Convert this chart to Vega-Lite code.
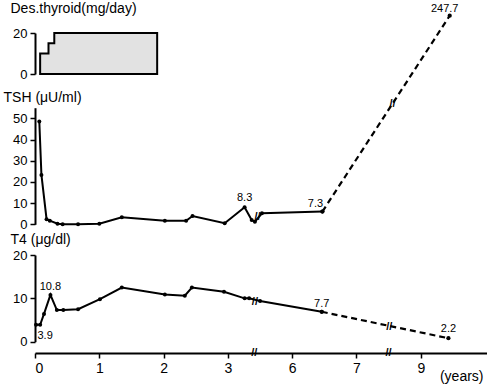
{
  "$schema": "https://vega.github.io/schema/vega-lite/v6.json",
  "width": 452,
  "height": 353,
  "autosize": "none",
  "padding": {"left": 35, "top": 0, "right": 0, "bottom": 33},
  "background": "white",
  "config": {
    "view": {"stroke": null},
    "font": "Liberation Sans",
    "axis": {"grid": false, "domainColor": "black", "domainWidth": 2, "tickColor": "black", "tickWidth": 1.5, "tickSize": 5, "labelColor": "black", "labelFontSize": 13, "titleFontSize": 14, "titleFontWeight": "normal", "titleColor": "black", "labelPadding": 3}
  },
  "datasets": {
    "dose": [{"p": 0.08, "v": 10}, {"p": 0.21, "v": 15}, {"p": 0.30, "v": 20}, {"p": 1.9, "v": 20}],
    "tsh": [
      {"p": 0.067, "v": 48.5}, {"p": 0.10, "v": 23.3}, {"p": 0.18, "v": 2.4}, {"p": 0.23, "v": 1.7},
      {"p": 0.35, "v": 0.3}, {"p": 0.43, "v": 0}, {"p": 0.67, "v": 0}, {"p": 1.0, "v": 0.3},
      {"p": 1.35, "v": 3.3}, {"p": 2.02, "v": 1.7}, {"p": 2.35, "v": 1.7}, {"p": 2.45, "v": 3.9},
      {"p": 2.95, "v": 0.5}, {"p": 3.26, "v": 8.0, "label": "8.3"}, {"p": 3.37, "v": 2}, {"p": 3.42, "v": 1.2},
      {"p": 3.53, "v": 5.2}, {"p": 4.47, "v": 6, "label": "7.3"}
    ],
    "tshd": [{"p": 4.47, "v": 6}, {"p": 6.45, "v": 98.4, "label": "247.7"}],
    "tshBreaks": [{"p": 3.46, "v": 3.6}, {"p": 5.56, "v": 56.7}],
    "t4": [
      {"p": 0.016, "v": 3.9}, {"p": 0.08, "v": 3.9, "label": "3.9"}, {"p": 0.14, "v": 6.4}, {"p": 0.24, "v": 10.8, "label": "10.8"},
      {"p": 0.34, "v": 7.3}, {"p": 0.44, "v": 7.3}, {"p": 0.67, "v": 7.5}, {"p": 1.01, "v": 9.8},
      {"p": 1.35, "v": 12.5}, {"p": 2.02, "v": 10.9}, {"p": 2.33, "v": 10.6}, {"p": 2.44, "v": 12.5},
      {"p": 2.94, "v": 11.5}, {"p": 3.26, "v": 10}, {"p": 3.33, "v": 10}, {"p": 3.50, "v": 9.4},
      {"p": 4.46, "v": 6.9, "label": "7.7"}
    ],
    "t4d": [{"p": 4.46, "v": 6.9}, {"p": 6.43, "v": 0.8, "label": "2.2"}],
    "t4Breaks": [{"p": 3.42, "v": 9.2}, {"p": 5.51, "v": 3.5}, {"p": 3.41, "v": -2.68}, {"p": 5.5, "v": -2.68}]
  },
  "encoding": {
    "x": {
      "field": "p", "type": "quantitative",
      "scale": {"domain": [0, 7.03], "nice": false, "zero": false},
      "axis": {
        "values": [0, 1, 2, 3, 4, 5, 6],
        "labelExpr": "datum.value == 4 ? '6' : datum.value == 5 ? '7' : datum.value == 6 ? '9' : datum.label",
        "labelFontSize": 14,
        "title": "(years)", "titleX": 448, "titleY": 23, "titleAlign": "right", "titleBaseline": "middle", "titleFontSize": 14
      }
    }
  },
  "layer": [
    {
      "data": {"name": "dose"},
      "mark": {"type": "area", "interpolate": "step-after", "fill": "#e2e2e2", "stroke": "black", "strokeWidth": 2},
      "encoding": {
        "y": {
          "field": "v", "type": "quantitative", "stack": null,
          "scale": {"domain": [0, 20], "range": [74, 33], "nice": false},
          "axis": {"orient": "left", "values": [0, 20], "title": "Des.thyroid(mg/day)", "titleAngle": 0, "titleX": -25, "titleY": 8, "titleAlign": "left", "titleBaseline": "middle"}
        }
      }
    },
    {
      "encoding": {
        "y": {
          "field": "v", "type": "quantitative",
          "scale": {"domain": [0, 55], "range": [224.3, 107.7], "nice": false},
          "axis": {"orient": "left", "values": [0, 10, 20, 30, 40, 50], "title": "TSH (μU/ml)", "titleAngle": 0, "titleX": -32, "titleY": 97, "titleAlign": "left", "titleBaseline": "middle"}
        }
      },
      "layer": [
        {"data": {"name": "tsh"}, "mark": {"type": "line", "color": "black", "strokeWidth": 2}},
        {"data": {"name": "tshd"}, "mark": {"type": "line", "color": "black", "strokeWidth": 2.2, "strokeDash": [6, 4]}},
        {"data": {"name": "tsh"}, "mark": {"type": "circle", "color": "black", "size": 16, "opacity": 1}},
        {"data": {"name": "tshd"}, "mark": {"type": "circle", "color": "black", "size": 18, "opacity": 1}},
        {"data": {"name": "tsh"}, "transform": [{"filter": "datum.label == '8.3'"}], "mark": {"type": "text", "color": "black", "fontSize": 11, "dy": -9}, "encoding": {"text": {"field": "label"}}},
        {"data": {"name": "tsh"}, "transform": [{"filter": "datum.label == '7.3'"}], "mark": {"type": "text", "color": "black", "fontSize": 11, "dy": -8, "dx": -7}, "encoding": {"text": {"field": "label"}}},
        {"data": {"name": "tshd"}, "transform": [{"filter": "isValid(datum.label)"}], "mark": {"type": "text", "color": "black", "fontSize": 11, "dy": -7, "dx": -5}, "encoding": {"text": {"field": "label"}}},
        {"data": {"name": "tshBreaks"}, "mark": {"type": "text", "color": "black", "fontSize": 11, "fontWeight": "bold", "text": "//"}}
      ]
    },
    {
      "encoding": {
        "y": {
          "field": "v", "type": "quantitative",
          "scale": {"domain": [0, 20], "range": [341.7, 255], "nice": false},
          "axis": {"orient": "left", "values": [0, 10, 20], "title": "T4 (μg/dl)", "titleAngle": 0, "titleX": -25, "titleY": 239, "titleAlign": "left", "titleBaseline": "middle"}
        }
      },
      "layer": [
        {"data": {"name": "t4"}, "mark": {"type": "line", "color": "black", "strokeWidth": 2}},
        {"data": {"name": "t4d"}, "mark": {"type": "line", "color": "black", "strokeWidth": 2.2, "strokeDash": [6, 4]}},
        {"data": {"name": "t4"}, "mark": {"type": "circle", "color": "black", "size": 16, "opacity": 1}},
        {"data": {"name": "t4d"}, "mark": {"type": "circle", "color": "black", "size": 18, "opacity": 1}},
        {"data": {"name": "t4"}, "transform": [{"filter": "datum.label == '10.8' || datum.label == '7.7'"}], "mark": {"type": "text", "color": "black", "fontSize": 11, "dy": -8}, "encoding": {"text": {"field": "label"}}},
        {"data": {"name": "t4"}, "transform": [{"filter": "datum.label == '3.9'"}], "mark": {"type": "text", "color": "black", "fontSize": 11, "dy": 11, "dx": 5}, "encoding": {"text": {"field": "label"}}},
        {"data": {"name": "t4d"}, "transform": [{"filter": "isValid(datum.label)"}], "mark": {"type": "text", "color": "black", "fontSize": 11, "dy": -9}, "encoding": {"text": {"field": "label"}}},
        {"data": {"name": "t4Breaks"}, "mark": {"type": "text", "color": "black", "fontSize": 11, "fontWeight": "bold", "text": "//"}}
      ]
    }
  ],
  "resolve": {"scale": {"y": "independent"}, "axis": {"y": "independent"}}
}
